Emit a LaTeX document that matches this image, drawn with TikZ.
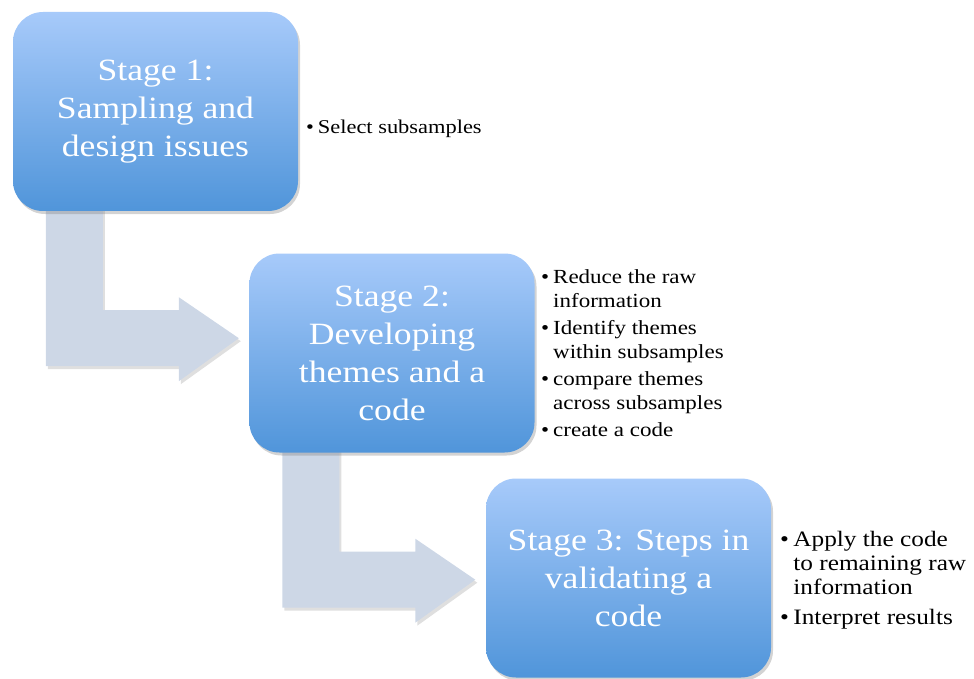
\documentclass[tikz,border=0pt]{standalone}
\usepackage{fontspec}
\setmainfont[FakeStretch=1.15]{Liberation Serif}
\usetikzlibrary{positioning, shadows, backgrounds, calc}

\definecolor{boxtop}{HTML}{A7CAFA}
\definecolor{boxbot}{HTML}{5095DA}
\definecolor{arrowgray}{HTML}{CDD7E6}

\newcommand{\itm}{\makebox[0.6em][l]{\textbullet}}
\newcommand{\cnt}{\hspace{0.6em}}

\begin{document}
\begin{tikzpicture}[
    x=1pt, y=-1pt,
    stage/.style={rectangle, rounded corners=30pt, minimum width=285pt, minimum height=199pt,
        top color=boxtop, bottom color=boxbot, draw=none, text=white, align=center,
        font=\fontsize{31}{38}\selectfont, drop shadow={opacity=0.35, shadow xshift=2pt, shadow yshift=-3pt}},
    bullets/.style={align=left, inner sep=0pt, anchor=north west},
    bentarrow/.style={fill=arrowgray, draw=none, drop shadow={opacity=0.25, shadow xshift=2pt, shadow yshift=-3pt}}
]
\useasboundingbox (0,0) rectangle (974,679);

% Stages
\node[stage] (s1) at (155.5,111.5) {Stage 1:\\Sampling and\\design issues};
\node[stage] (s2) at (392,353) {Stage 2:\\Developing\\themes and a\\code};
\node[stage] (s3) at (628.5,578) {Stage 3: Steps in\\validating a\\code};

% Bullet lists
\node[bullets, font=\fontsize{19.5}{22}\selectfont] (l1) at (306,120) {\itm Select subsamples};
\node[bullets, font=\fontsize{20}{24}\selectfont] (l2) at (541,269)
    {\itm Reduce the raw\\\cnt information\\[3pt]
     \itm Identify themes\\\cnt within subsamples\\[3pt]
     \itm compare themes\\\cnt across subsamples\\[3pt]
     \itm create a code};
\node[bullets, font=\fontsize{22}{24}\selectfont] (l3) at (780,531)
    {\itm Apply the code\\\cnt to remaining raw\\\cnt information\\[6pt]
     \itm Interpret results};

% Bent arrows between stages
\begin{scope}[on background layer]
\foreach \a in {s1, s2} {
    \path[bentarrow, shift={(\a.south west)}]
        (33,-10) -- (90,-10) -- (90,99) -- (166,99) -- (166,86) -- (226,127)
        -- (166,170) -- (166,155) -- (33,155) -- cycle;
}
\end{scope}
\end{tikzpicture}
\end{document}
